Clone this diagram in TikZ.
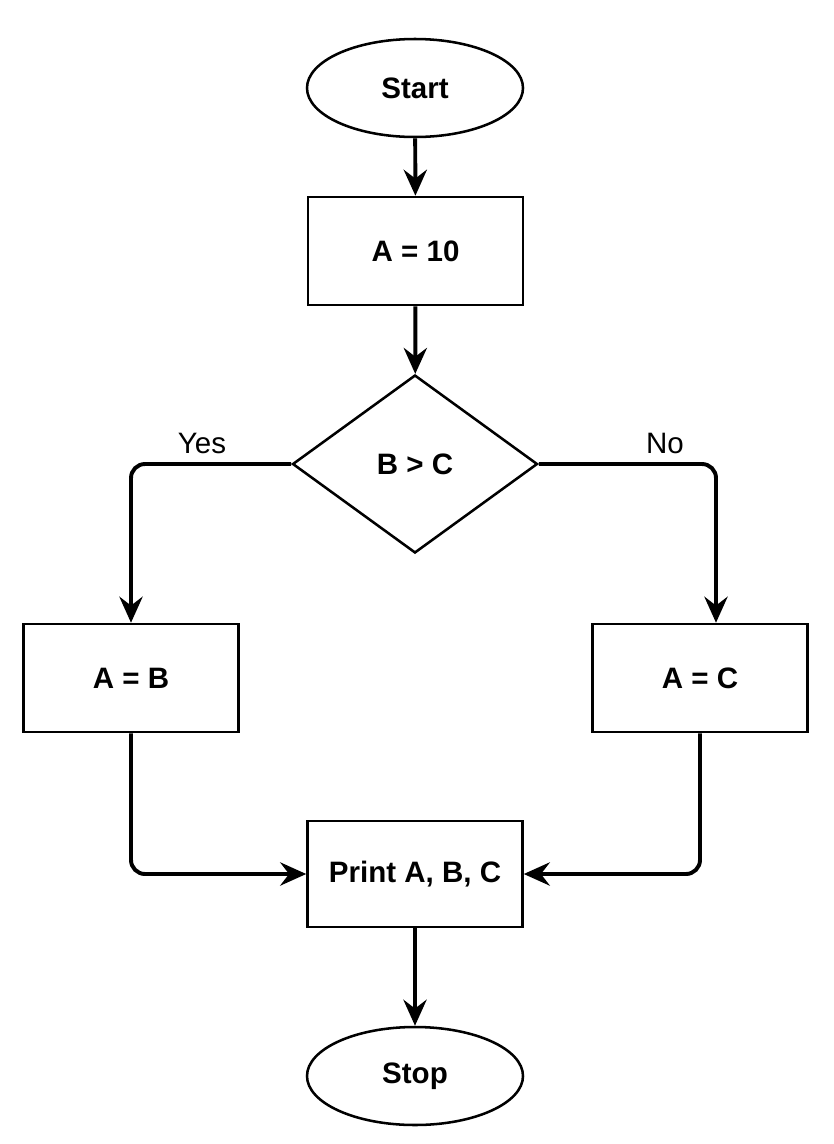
\documentclass[tikz,border=0pt]{standalone}
\usepackage{fontspec}
\setmainfont{Liberation Sans}
\usetikzlibrary{shapes.geometric,arrows.meta}

\begin{document}
\begin{tikzpicture}[
    font=\fontsize{21}{25}\selectfont,
    term/.style={draw, ellipse, line width=1.8pt, minimum width=5.4cm, minimum height=2.45cm, inner sep=0pt, font=\fontsize{21}{25}\selectfont\bfseries},
    proc/.style={draw, rectangle, line width=1.8pt, minimum width=5.375cm, minimum height=2.7cm, inner sep=0pt, font=\fontsize{21}{25}\selectfont\bfseries},
    decision/.style={draw, diamond, line width=1.8pt, minimum width=6.125cm, minimum height=4.45cm, inner sep=0pt, font=\fontsize{21}{25}\selectfont\bfseries},
    conn/.style={line width=2.8pt, rounded corners=0.35cm, -{Stealth[length=6.5mm, width=5.8mm, inset=2.2mm]}}
]
    \useasboundingbox (0,0) rectangle (20.85,-28.6);

    % Nodes
    \node[term] (start) at (10.375,-2.2) {Start};
    \node[proc] (init) at (10.39,-6.275) {A = 10};
    \node[decision] (cond) at (10.375,-11.6) {B > C};
    \node[proc] (seta) at (3.275,-16.95) {A = B};
    \node[proc] (setc) at (17.5,-16.95) {A = C};
    \node[proc, minimum height=2.65cm] (print) at (10.375,-21.85) {Print A, B, C};
    \node[term] (stop) at (10.375,-26.9) {Stop};

    % Arrows
    \draw[conn] (start) -- (init);
    \draw[conn] (init) -- (cond);
    \draw[conn] (cond.west) -| (seta.north);
    \draw[conn] (cond.east) -| ([xshift=0.4cm]setc.north);
    \draw[conn] (seta.south) |- (print.west);
    \draw[conn] (setc.south) |- (print.east);
    \draw[conn] (print) -- (stop);

    % Labels
    \node (yes) at (5.05,-11.075) {Yes};
    \node (no) at (16.625,-11.075) {No};
\end{tikzpicture}
\end{document}
